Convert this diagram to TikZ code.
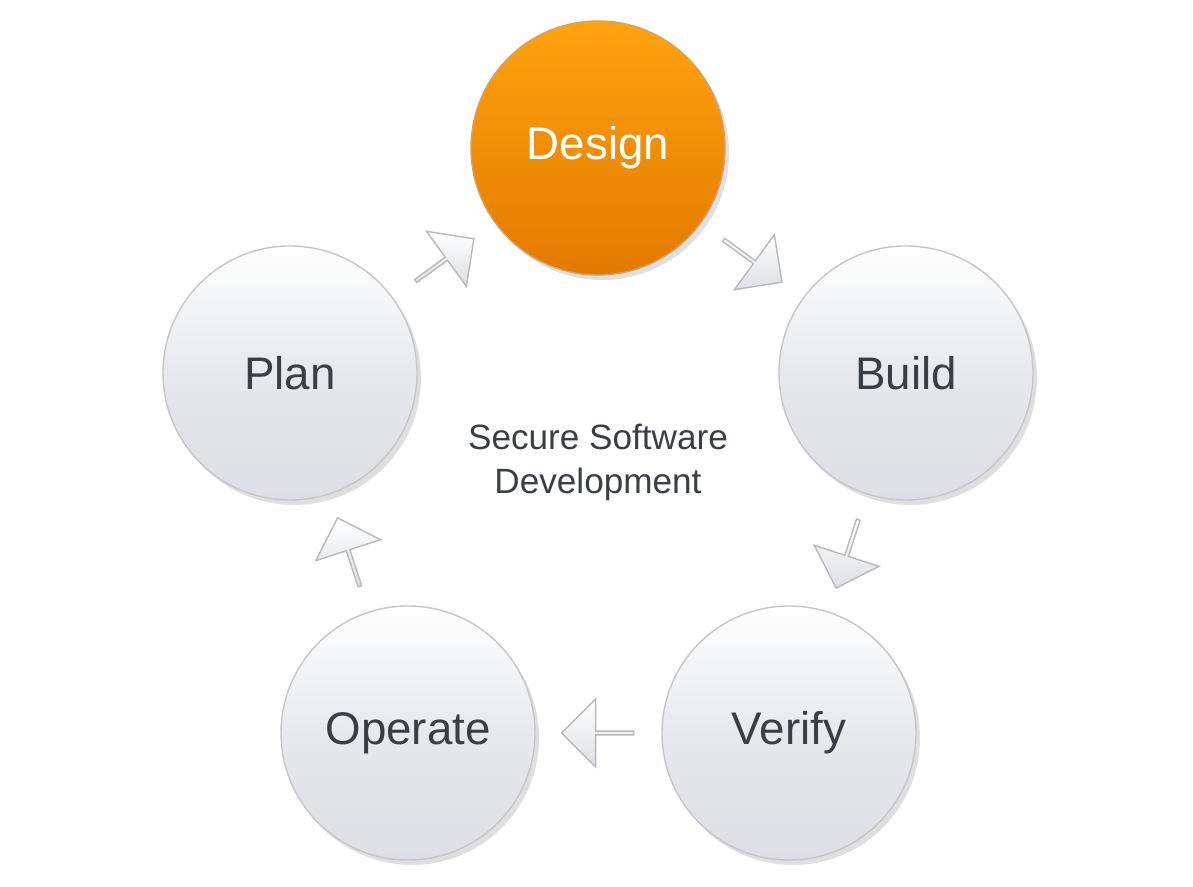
\documentclass[tikz,border=0pt]{standalone}
\usepackage{fontspec}
\setmainfont{Liberation Sans}
\usetikzlibrary{calc,shapes.arrows,shadows}
\definecolor{txt}{HTML}{3A3F45}
\definecolor{stepgray}{HTML}{DCDFE3}
\definecolor{orangetop}{HTML}{FFA30E}
\definecolor{orangebot}{HTML}{E27A00}
\tikzset{
  phase/.style = {circle, minimum size=2.54cm, inner sep=0pt, draw=gray!45, line width=0.4pt,
    top color=white, bottom color=stepgray, middle color=stepgray!70,
    drop shadow={shadow xshift=0.04cm, shadow yshift=-0.05cm, opacity=0.25},
    text=txt, font=\fontsize{13}{15}\selectfont},
  current/.style = {phase, top color=orangetop, middle color=orangetop!90!orangebot,
    bottom color=orangebot, draw=orangebot!80!black!60, text=white},
  flow/.style = {single arrow, minimum height=0.72cm, minimum width=0.68cm,
    single arrow head extend=0.12cm, inner sep=0pt, draw=gray!55,
    top color=white, bottom color=stepgray, shading angle=0},
}

\begin{document}
\begin{tikzpicture}
  \useasboundingbox (0,0) rectangle (11.93,8.87);

  % the five phases
  \node[current] (design)  at (5.98,7.39) {Design};
  \node[phase]   (build)   at (9.06,5.14) {Build};
  \node[phase]   (verify)  at (7.89,1.54) {Verify};
  \node[phase]   (operate) at (4.08,1.54) {Operate};
  \node[phase]   (plan)    at (2.90,5.14) {Plan};

  % caption in the middle
  \node[text=txt, align=center, font=\fontsize{10}{12.5}\selectfont] (title) at (5.98,4.25)
    {Secure Software\\Development};

  % arrows between the phases
  \node[flow, rotate=36]   (a1) at ($(plan)!0.5!(design)$) {};
  \node[flow, rotate=-36]  (a2) at ($(design)!0.5!(build)$) {};
  \node[flow, rotate=-108] (a3) at ($(build)!0.5!(verify)$) {};
  \node[flow, rotate=180]  (a4) at ($(verify)!0.5!(operate)$) {};
  \node[flow, rotate=108]  (a5) at ($(operate)!0.5!(plan)$) {};
\end{tikzpicture}
\end{document}
